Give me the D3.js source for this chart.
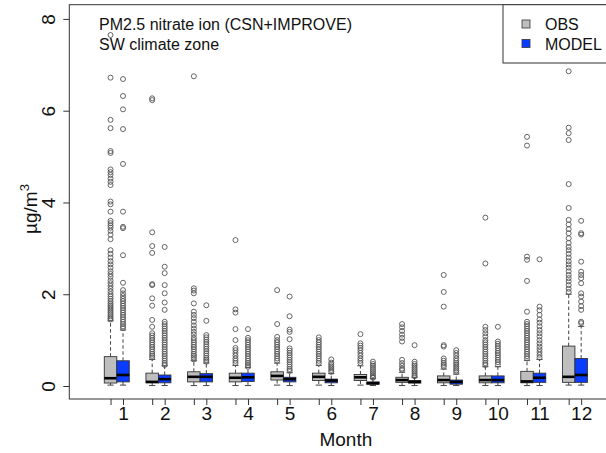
<!DOCTYPE html>
<html><head><meta charset="utf-8">
<script src="https://cdn.jsdelivr.net/npm/d3@7"></script>
<style>
html,body{margin:0;padding:0;background:#fff;}
svg text{font-family:"Liberation Sans",Arial,Helvetica,sans-serif;fill:#111;}
</style></head>
<body>
<svg id="chart" width="606" height="453"></svg>
<script>
const months = [1,2,3,4,5,6,7,8,9,10,11,12];
const yTicks = [0,2,4,6,8];
const seriesNames = ["OBS","MODEL"];
const titleLines = ["PM2.5 nitrate ion (CSN+IMPROVE)","SW climate zone"];

// [whisker low, Q1, median, Q3, whisker high]
const obsStats = [
  [0.02,0.065,0.17,0.64,1.42],
  [0.01,0.07,0.09,0.28,0.58],
  [0.01,0.09,0.20,0.31,0.55],
  [0.01,0.09,0.18,0.28,0.45],
  [0.02,0.13,0.22,0.31,0.50],
  [0.02,0.12,0.20,0.28,0.45],
  [0.02,0.12,0.19,0.25,0.44],
  [0.01,0.08,0.13,0.19,0.30],
  [0.01,0.07,0.13,0.22,0.37],
  [0.01,0.07,0.13,0.22,0.42],
  [0.01,0.07,0.10,0.32,0.56],
  [0.02,0.08,0.20,0.87,2.00]
];
const modStats = [
  [0.02,0.09,0.24,0.55,1.22],
  [0.01,0.07,0.15,0.24,0.44],
  [0.01,0.09,0.20,0.27,0.50],
  [0.01,0.10,0.19,0.28,0.40],
  [0.01,0.09,0.15,0.19,0.29],
  [0.01,0.07,0.12,0.15,0.27],
  [0.01,0.04,0.06,0.09,0.16],
  [0.01,0.065,0.09,0.12,0.19],
  [0.01,0.04,0.09,0.13,0.26],
  [0.01,0.07,0.13,0.22,0.42],
  [0.01,0.08,0.18,0.28,0.58],
  [0.02,0.08,0.24,0.60,1.30]
];
const obsOutliers = [
  [7.65,6.72,5.8,5.62,5.12,5.08,4.72,4.66,4.6,4.52,4.45,4.38,4.02,3.96,3.8,3.6,3.55,3.5,3.45,3.38,3.3,3.2,2.96,2.88,2.8,2.72,2.65,2.58,2.5,2.44,2.38,2.3,2.24,2.18,2.12,2.06,2.0,1.95,1.9,1.85,1.8,1.76,1.72,1.68,1.64,1.6,1.56,1.52,1.48,1.45],
  [6.27,6.23,3.35,3.05,2.9,2.22,2.2,1.91,1.75,1.44,1.29,1.15,1.1,1.05,1.0,0.95,0.9,0.85,0.8,0.75,0.7,0.66,0.62],
  [6.75,2.13,2.08,2.02,1.8,1.62,1.55,1.48,1.4,1.32,1.25,1.18,1.12,1.05,1.0,0.95,0.9,0.85,0.8,0.75,0.7,0.66,0.62,0.58],
  [3.18,1.67,1.6,1.24,1.0,0.83,0.78,0.72,0.66,0.6,0.55,0.5],
  [2.09,1.35,1.07,1.0,0.95,0.9,0.85,0.8,0.75,0.7,0.65,0.6,0.55],
  [1.06,1.0,0.95,0.9,0.85,0.8,0.75,0.7,0.65,0.6,0.55,0.5],
  [1.13,0.93,0.88,0.83,0.78,0.72,0.66,0.6,0.55,0.5],
  [1.35,1.28,1.2,1.12,1.05,0.97,0.57,0.5,0.44,0.38,0.35],
  [2.42,2.05,1.73,0.89,0.86,0.6,0.55,0.5,0.46,0.42],
  [3.67,2.67,1.29,1.22,1.15,1.08,1.0,0.95,0.9,0.85,0.8,0.75,0.7,0.65,0.6,0.55,0.5,0.46],
  [5.43,5.24,2.82,2.75,2.29,1.62,1.4,1.35,1.3,1.25,1.2,1.15,1.1,1.05,1.0,0.95,0.9,0.85,0.8,0.75,0.7,0.65,0.6],
  [6.86,5.63,5.51,5.36,4.4,3.88,3.62,3.52,3.42,3.33,3.22,3.12,3.03,2.96,2.88,2.8,2.72,2.65,2.58,2.5,2.42,2.35,2.28,2.2,2.12,2.05]
];
const modOutliers = [
  [6.69,6.32,6.03,5.6,4.84,3.8,3.47,3.44,2.85,2.25,2.09,2.02,1.96,1.9,1.85,1.8,1.75,1.7,1.65,1.6,1.55,1.5,1.45,1.4,1.35,1.3,1.26],
  [3.03,2.6,2.46,2.2,2.02,1.82,1.66,1.4,1.35,1.3,1.25,1.2,1.15,1.1,1.05,1.0,0.95,0.9,0.85,0.8,0.75,0.7,0.65,0.6,0.55,0.5,0.46],
  [1.76,1.42,1.11,1.06,1.01,0.96,0.91,0.86,0.81,0.76,0.71,0.66,0.61,0.57,0.53],
  [1.24,1.05,1.0,0.95,0.9,0.85,0.8,0.75,0.7,0.65,0.6,0.55,0.5,0.46,0.42],
  [1.95,1.52,1.23,1.18,1.02,0.82,0.77,0.72,0.67,0.62,0.57,0.52,0.47,0.42,0.37,0.33],
  [0.58,0.51,0.47,0.43,0.39,0.35,0.31],
  [0.53,0.48,0.44,0.4,0.36,0.32,0.28,0.24,0.2,0.18],
  [0.89,0.53,0.48,0.44,0.4,0.36,0.32,0.28,0.24,0.21],
  [0.78,0.72,0.66,0.6,0.55,0.5,0.46,0.42,0.38,0.34,0.3],
  [1.29,0.97,0.92,0.87,0.82,0.77,0.72,0.67,0.62,0.57,0.52,0.47],
  [2.76,1.73,1.65,1.55,1.45,1.38,1.3,1.22,1.15,1.08,1.0,0.93,0.86,0.8,0.74,0.68,0.62],
  [3.6,3.33,3.3,2.71,2.49,2.42,2.35,2.24,2.02,1.95,1.84,1.74,1.66,1.4,1.37]
];
const seriesColors = ["#bebebe","#0a3cff"];

const svg = d3.select("#chart");
const L = 69.3, T = 4.7, B = 399, R = 622.4;
const x = d3.scaleLinear().domain([-0.14, 13.14]).range([L, R]);
const y = d3.scaleLinear().domain([-0.283, 8.31]).range([B, T]);
const off = 0.15, hw = 0.15;

const series = [
  {name:seriesNames[0], stats:obsStats, out:obsOutliers, color:seriesColors[0], dx:-off},
  {name:seriesNames[1], stats:modStats, out:modOutliers, color:seriesColors[1], dx:off}
];

const g = svg.append("g");
series.forEach(s => {
  months.forEach((m, i) => {
    const [lo,q1,md,q3,hi] = s.stats[i];
    const cx = x(m + s.dx);
    const bw = 2*(x(m + s.dx + hw) - cx);
    const cap = bw/2;
    g.append("line").attr("x1",cx).attr("x2",cx).attr("y1",y(q3)).attr("y2",y(hi))
      .attr("stroke","#444").attr("stroke-width",1).attr("stroke-dasharray","3.5,2.5");
    g.append("line").attr("x1",cx).attr("x2",cx).attr("y1",y(q1)).attr("y2",y(lo))
      .attr("stroke","#444").attr("stroke-width",1).attr("stroke-dasharray","3.5,2.5");
    g.append("line").attr("x1",cx-cap/2).attr("x2",cx+cap/2).attr("y1",y(hi)).attr("y2",y(hi))
      .attr("stroke","#444").attr("stroke-width",1);
    g.append("line").attr("x1",cx-cap/2).attr("x2",cx+cap/2).attr("y1",y(lo)).attr("y2",y(lo))
      .attr("stroke","#444").attr("stroke-width",1);
    g.append("rect").attr("x",cx-bw/2).attr("width",bw)
      .attr("y",y(q3)).attr("height",Math.max(0.5,y(q1)-y(q3)))
      .attr("fill",s.color).attr("stroke","#333").attr("stroke-width",0.9);
    g.append("line").attr("x1",cx-bw/2).attr("x2",cx+bw/2).attr("y1",y(md)).attr("y2",y(md))
      .attr("stroke","#000").attr("stroke-width",2.6);
    g.selectAll(null).data(s.out[i]).enter().append("circle")
      .attr("cx",cx).attr("cy",d=>y(d)).attr("r",2.5)
      .attr("fill","none").attr("stroke","#555").attr("stroke-width",0.9);
  });
});

// frame
svg.append("rect").attr("x",L).attr("y",T).attr("width",R-L).attr("height",B-T)
  .attr("fill","none").attr("stroke","#333").attr("stroke-width",1);

// y axis
const yAxis = svg.append("g").attr("transform",`translate(${L},0)`)
  .call(d3.axisLeft(y).tickValues(yTicks).tickSize(6).tickFormat(d3.format("d")));
yAxis.select(".domain").remove();
yAxis.selectAll(".tick line").attr("stroke","#333");
yAxis.selectAll(".tick text").attr("font-size",19).attr("x",null).attr("dy",null)
  .attr("text-anchor","middle")
  .attr("transform","translate(-14,0) rotate(-90)")
  .attr("font-family","Liberation Sans, Arial, sans-serif").style("fill","#111");

// x axis: ticks at both box positions, labels at MODEL position
const xAxisObs = svg.append("g").attr("transform",`translate(0,${B})`)
  .call(d3.axisBottom(x).tickValues(months.map(m=>m-off)).tickSize(6).tickFormat(""));
xAxisObs.select(".domain").remove();
xAxisObs.selectAll(".tick line").attr("stroke","#333");
const xAxisMod = svg.append("g").attr("transform",`translate(0,${B})`)
  .call(d3.axisBottom(x).tickValues(months.map(m=>m+off)).tickSize(6)
    .tickFormat((d,i)=>months[i]));
xAxisMod.select(".domain").remove();
xAxisMod.selectAll(".tick line").attr("stroke","#333");
xAxisMod.selectAll(".tick text").attr("font-size",19).attr("y",null).attr("dy",null)
  .attr("transform","translate(0,21)")
  .attr("font-family","Liberation Sans, Arial, sans-serif").style("fill","#111");

// axis titles
svg.append("text").attr("x",(L+R)/2).attr("y",446).attr("text-anchor","middle")
  .attr("font-size",19).text("Month");
const yl = svg.append("text").attr("transform",`translate(37,209) rotate(-90)`)
  .attr("text-anchor","middle").attr("font-size",19);
yl.append("tspan").text("µg/m");
yl.append("tspan").attr("font-size",13).attr("dy",-8).text("3");

// title (top-left)
titleLines.forEach((t,i)=>{
  svg.append("text").attr("x",99).attr("y",30+i*19.5).attr("font-size",16).text(t);
});

// legend (top-right)
const lg = svg.append("g");
lg.append("rect").attr("x",503).attr("y",T).attr("width",R-503).attr("height",63-T)
  .attr("fill","#fff").attr("stroke","#333").attr("stroke-width",1);
series.forEach((s,i)=>{
  lg.append("rect").attr("x",522).attr("y",20+i*19.5).attr("width",8).attr("height",8)
    .attr("fill",s.color).attr("stroke","#333").attr("stroke-width",0.8);
  lg.append("text").attr("x",545).attr("y",30+i*19.5).attr("font-size",16).text(s.name);
});
</script>
</body></html>
